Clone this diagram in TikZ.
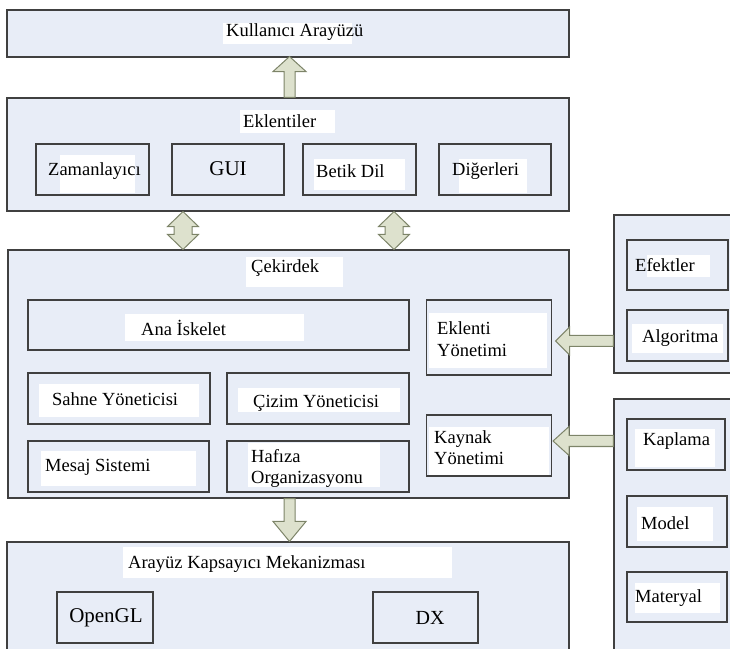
\documentclass[tikz,border=0pt]{standalone}
\usepackage{fontspec}
\setmainfont{Liberation Serif}
\usetikzlibrary{calc}
\definecolor{panelfill}{RGB}{232,237,247}
\definecolor{edge}{RGB}{64,64,64}
\definecolor{arrowfill}{RGB}{221,225,205}
\definecolor{arrowedge}{RGB}{125,132,105}
\begin{document}
\begin{tikzpicture}[x=1pt,y=1pt,
  panel/.style={draw=edge, fill=panelfill, line width=1.1pt, rectangle, inner sep=0pt},
  patch/.style={fill=white},
  lbl/.style={font=\fontsize{18.5}{21.5}\selectfont, inner sep=0pt, anchor=west, align=left},
  biglbl/.style={lbl, anchor=center, font=\fontsize{21}{24}\selectfont},
  blockarrow/.style={draw=arrowedge, fill=arrowfill, line width=1pt, line join=miter},
]
\useasboundingbox (0,0) rectangle (730,648);
\clip (0,0) rectangle (730,648);

% ---- outer panels ----
\node[panel, minimum width=562pt, minimum height=47pt]  (kul) at (288,614.5) {};
\node[panel, minimum width=562pt, minimum height=113pt] (ekl) at (288,493.5) {};
\node[panel, minimum width=561pt, minimum height=248pt] (cek) at (288.5,274) {};
\node[panel, minimum width=562pt, minimum height=118pt] (ara) at (288,47) {};
\node[panel, minimum width=131pt, minimum height=158pt] (rb1) at (679.5,354) {};
\node[panel, minimum width=131pt, minimum height=261pt] (rb2) at (679.5,118.5) {};

% ---- plug-in items ----
\node[panel, minimum width=113pt, minimum height=51pt] (zam) at (92.5,478.5) {};
\node[panel, minimum width=112pt, minimum height=51pt] (gui) at (228,478.5) {};
\node[panel, minimum width=113pt, minimum height=51pt] (bet) at (359.5,478.5) {};
\node[panel, minimum width=112pt, minimum height=51pt] (dig) at (495,478.5) {};

% ---- core items ----
\node[panel, minimum width=381pt, minimum height=50pt] (ana) at (218.5,323) {};
\node[panel, minimum width=125pt, minimum height=75pt] (eyo) at (489,310.5) {};
\node[panel, minimum width=182pt, minimum height=51pt] (sah) at (119,249.5) {};
\node[panel, minimum width=182pt, minimum height=51pt] (ciz) at (318,249.5) {};
\node[panel, minimum width=181pt, minimum height=51pt] (mes) at (118.5,181.5) {};
\node[panel, minimum width=182pt, minimum height=51pt] (haf) at (318,181.5) {};
\node[panel, minimum width=125pt, minimum height=61pt] (kyo) at (489,202.5) {};

% ---- wrapper items ----
\node[panel, minimum width=96pt,  minimum height=51pt] (ogl) at (105,30.5) {};
\node[panel, minimum width=105pt, minimum height=51pt] (dx)  at (425.5,30.5) {};

% ---- side items ----
\node[panel, minimum width=101pt, minimum height=50pt] (efe) at (677.5,383) {};
\node[panel, minimum width=101pt, minimum height=51pt] (alg) at (677.5,312.5) {};
\node[panel, minimum width=98pt,  minimum height=51pt] (kap) at (676,203.5) {};
\node[panel, minimum width=100pt, minimum height=51pt] (mod) at (677,126.5) {};
\node[panel, minimum width=100pt, minimum height=50pt] (mat) at (677,51) {};

% ---- white label backgrounds ----
\fill[patch] (223,604) rectangle (352,625);
\fill[patch] (240,515) rectangle (335,538);
\fill[patch] (60,455) rectangle (135,493);
\fill[patch] (314,458) rectangle (405,489);
\fill[patch] (459,455) rectangle (527,489);
\fill[patch] (246,361) rectangle (343,391);
\fill[patch] (125,307) rectangle (304,334);
\fill[patch] (429,280) rectangle (547,335);
\fill[patch] (39,231) rectangle (199,264);
\fill[patch] (238,236) rectangle (400,260);
\fill[patch] (41,162) rectangle (196,197);
\fill[patch] (248,161) rectangle (380,205);
\fill[patch] (429,173) rectangle (549,221);
\fill[patch] (123,70) rectangle (452,101);
\fill[patch] (647,371) rectangle (710,393);
\fill[patch] (632,295) rectangle (723,324);
\fill[patch] (635,181) rectangle (715,219);
\fill[patch] (637,107) rectangle (713,141);
\fill[patch] (635,35) rectangle (720,65);

% ---- labels ----
\node[lbl] (t-kul) at (226,616) {Kullanıcı Arayüzü};
\node[lbl] (t-ekl) at (243,527) {Eklentiler};
\node[lbl] (t-zam) at (48,477) {Zamanlayıcı};
\node[biglbl] (t-gui) at (228,479) {GUI};
\node[lbl] (t-bet) at (316,477) {Betik Dil};
\node[lbl] (t-dig) at (452,477) {Diğerleri};
\node[lbl] (t-cek) at (251,380) {Çekirdek};
\node[lbl] (t-ana) at (141,320) {Ana İskelet};
\node[lbl] (t-eyo) at (437,309) {Eklenti\\Yönetimi};
\node[lbl] (t-sah) at (52,249) {Sahne Yöneticisi};
\node[lbl] (t-ciz) at (253,245) {Çizim Yöneticisi};
\node[lbl] (t-mes) at (45,181) {Mesaj Sistemi};
\node[lbl] (t-haf) at (251,179.5) {Hafıza\\Organizasyonu};
\node[lbl] (t-kyo) at (434,200.5) {Kaynak\\Yönetimi};
\node[lbl] (t-ara) at (128,84) {Arayüz Kapsayıcı Mekanizması};
\node[biglbl] (t-ogl) at (106,30) {OpenGL};
\node[biglbl, font=\fontsize{20}{23}\selectfont] (t-dx) at (430,30) {DX};
\node[lbl] (t-efe) at (635,383) {Efektler};
\node[lbl] (t-alg) at (642,310) {Algoritma};
\node[lbl] (t-kap) at (643,207) {Kaplama};
\node[lbl] (t-mod) at (641,125) {Model};
\node[lbl] (t-mat) at (635,50) {Materyal};

% ---- block arrows ----
% plug-ins up to the user interface
\path[blockarrow] let \p1=($(ekl.north)+(1.5,0)$), \p2=(kul.south) in
  (\x1-5.5,\y1) -- (\x1-5.5,\y2-14) -- (\x1-16.5,\y2-14) -- (\x1,\y2+1)
  -- (\x1+16.5,\y2-14) -- (\x1+5.5,\y2-14) -- (\x1+5.5,\y1) -- cycle;
% plug-ins <-> core
\foreach \ax in {183,394}{
  \path[blockarrow] let \p1=(ekl.south), \p2=(cek.north) in
    (\ax,\y1) -- (\ax+15.5,\y1-15) -- (\ax+9,\y1-15) -- (\ax+9,\y2+15)
    -- (\ax+15.5,\y2+15) -- (\ax,\y2) -- (\ax-15.5,\y2+15) -- (\ax-9,\y2+15)
    -- (\ax-9,\y1-15) -- (\ax-15.5,\y1-15) -- cycle;
}
% core down to the wrapper layer
\path[blockarrow] let \p1=($(cek.south)+(1,0)$), \p2=(ara.north) in
  (\x1-5.5,\y1) -- (\x1-5.5,\y2+20) -- (\x1-16.5,\y2+20) -- (\x1,\y2)
  -- (\x1+16.5,\y2+20) -- (\x1+5.5,\y2+20) -- (\x1+5.5,\y1) -- cycle;
% side panels into the managers
\path[blockarrow] let \p1=($(eyo.east)+(3.5,-3.5)$), \p2=(rb1.west) in
  (\x2,\y1+5.5) -- (\x1+14,\y1+5.5) -- (\x1+14,\y1+14) -- (\x1,\y1)
  -- (\x1+14,\y1-14) -- (\x1+14,\y1-5.5) -- (\x2,\y1-5.5) -- cycle;
\path[blockarrow] let \p1=($(kyo.east)+(1,4.5)$), \p2=(rb2.west) in
  (\x2,\y1+5.5) -- (\x1+16,\y1+5.5) -- (\x1+16,\y1+14.5) -- (\x1,\y1)
  -- (\x1+16,\y1-14.5) -- (\x1+16,\y1-5.5) -- (\x2,\y1-5.5) -- cycle;
\end{tikzpicture}
\end{document}
